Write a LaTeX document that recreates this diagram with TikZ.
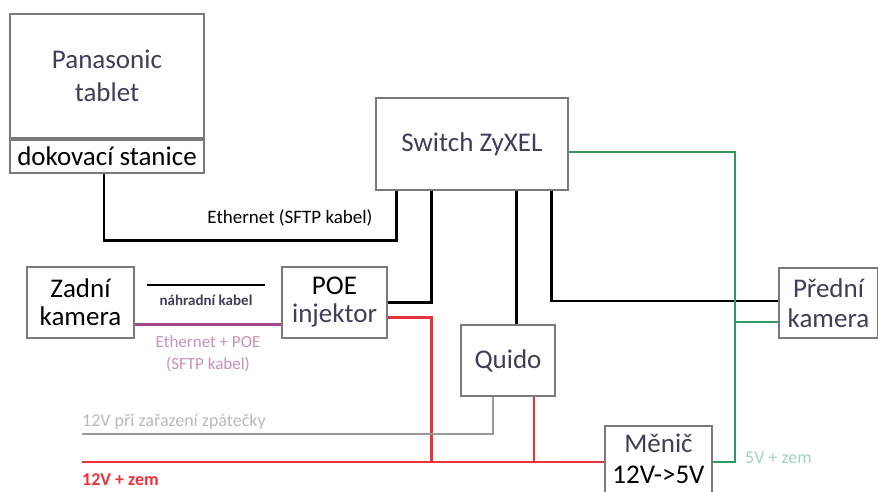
\documentclass[tikz,border=0pt]{standalone}
\usepackage{fontspec}
\setmainfont{Carlito}
\usetikzlibrary{positioning}
\definecolor{boxtext}{HTML}{3E3E58}
\definecolor{boxgray}{HTML}{7A7A7A}
\definecolor{pwrred}{HTML}{E8323C}
\definecolor{ledgreen}{HTML}{2E9A5E}
\definecolor{poepurple}{HTML}{A4468C}

\begin{document}
\begin{tikzpicture}[x=1pt,y=-1pt,
  box/.style={draw=boxgray,line width=1.2pt,fill=white,align=center,
    text=boxtext,inner sep=0pt,font=\fontsize{27}{30}\selectfont},
  wire/.style={line width=2.6pt},
  pwr/.style={line width=2.6pt,pwrred},
  led/.style={line width=2.6pt,ledgreen},
  rev/.style={line width=2.2pt,gray!80},
  lbl/.style={inner sep=0pt,align=center,font=\fontsize{17}{22}\selectfont}
]
  \useasboundingbox (0,0) rectangle (878,492);

  % boxes
  \node[box,font=\fontsize{27}{33}\selectfont,minimum width=194pt,minimum height=124pt]
    (tab) at (107,76) {Panasonic\\tablet};
  \node[box,text=black,minimum width=194pt,minimum height=33pt] (dock) at (107,156.5)
    {dokovací stanice};
  \node[box,minimum width=192pt,minimum height=92pt] (sw) at (472,144) {Switch ZyXEL};
  \node[box,text=black,font=\fontsize{27}{28}\selectfont,minimum width=107pt,
    minimum height=71pt] (zad) at (80.5,302.5) {Zadní\\kamera};
  \node[box,font=\fontsize{27}{28}\selectfont,minimum width=105pt,minimum height=71pt]
    (poe) at (334.5,302.5) {\textcolor{black}{POE}\\injektor};
  \node[box,minimum width=99pt,minimum height=70pt] (pred) at (828.5,303)
    {Přední\\kamera};
  \node[box,minimum width=94pt,minimum height=71pt] (quido) at (508,360.5) {Quido};
  \node[box,minimum width=107pt,minimum height=72pt] (men) at (658.5,462) {};
  \node[inner sep=0pt,align=center,text=boxtext,font=\fontsize{27}{31}\selectfont]
    (menTxt) at (658.5,459) {Měnič\\\textcolor{black}{12V->5V}};

  % switch ports and free ends
  \coordinate (p1) at ([xshift=21pt]sw.south west);
  \coordinate (p2) at ([xshift=56pt]sw.south west);
  \coordinate (p3) at ([xshift=141pt]sw.south west);
  \coordinate (p4) at ([xshift=176pt]sw.south west);
  \coordinate (gcol) at (735,0);
  \coordinate (busL) at (82,462);
  \coordinate (revL) at (82,434);
  \coordinate (nk1) at (147,285);
  \coordinate (nk2) at (265,285);

  % ethernet
  \draw[wire] ([xshift=-3pt]dock.south) -- ++(0,67) -| (p1);
  \draw[wire] (p2) |- (poe.east);
  \draw[wire] (p3) -- (quido.north -| p3);
  \draw[wire] (p4) |- ([yshift=2pt]pred.west);
  \draw[wire] (nk1) -- (nk2);
  \draw[line width=2.4pt,poepurple] ([yshift=-22pt]zad.east) -- ([yshift=-22pt]poe.west);

  % power
  \draw[pwr] ([yshift=-15pt]poe.east) -| (p2 |- busL);
  \draw[pwr] (busL) -- (men.west);
  \draw[pwr] ([xshift=26pt]quido.south) -- ++(0,66);
  \draw[rev] ([xshift=-15pt]quido.south) |- (revL);
  \draw[led] ([yshift=-8pt]sw.east) -| (gcol |- men.east) -- (men.east);
  \draw[led] ([yshift=-19pt]pred.west) -- ++(-44,0);

  % labels
  \node[lbl,font=\fontsize{19}{22}\selectfont] (lEth) at (290,218) {Ethernet (SFTP kabel)};
  \node[lbl,font=\bfseries\fontsize{15}{17}\selectfont,text=boxtext] (lNk) at (206,300)
    {náhradní kabel};
  \node[lbl,text=poepurple!60] (lPoe) at (208,354) {Ethernet + POE\\(SFTP kabel)};
  \node[lbl,text=gray!55,font=\fontsize{18}{20}\selectfont,anchor=west] (lRev) at (82,422)
    {12V při zařazení zpátečky};
  \node[lbl,text=pwrred,font=\bfseries\fontsize{18}{20}\selectfont,anchor=west] (lPwr) at (82,480)
    {12V + zem};
  \node[lbl,text=ledgreen!45,font=\fontsize{18}{20}\selectfont,anchor=west] (l5v) at (745,458)
    {5V + zem};
\end{tikzpicture}
\end{document}
